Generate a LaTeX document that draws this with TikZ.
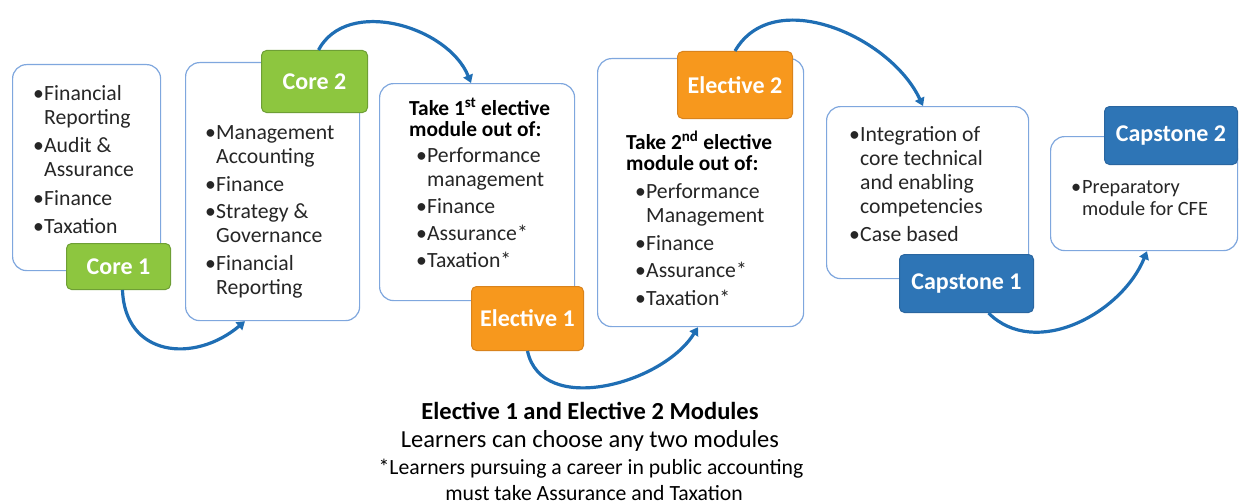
\documentclass[tikz,border=0pt]{standalone}
\usepackage{fontspec}
\setmainfont{Carlito}
\usetikzlibrary{arrows.meta,calc}

\definecolor{boxline}{HTML}{7FA7DE}
\definecolor{coregreen}{HTML}{8DC63F}
\definecolor{coreedge}{HTML}{6E9F35}
\definecolor{elecorange}{HTML}{F7981D}
\definecolor{elecedge}{HTML}{D9831C}
\definecolor{capblue}{HTML}{2E75B6}
\definecolor{capedge}{HTML}{2A66A0}
\definecolor{flowblue}{HTML}{1F6EB4}
\definecolor{textgrey}{HTML}{262626}

\newcommand\bl{\makebox[11pt][l]{\textbullet}}
\newcommand\ind{\hspace*{11pt}}

\tikzset{
  modbox/.style={draw=boxline, line width=1.2pt, rounded corners=14pt, fill=white, anchor=north west, inner sep=0pt},
  tag/.style={rounded corners=5pt, line width=1pt, anchor=north west, inner sep=0pt, text=white, font=\bfseries\fontsize{24}{28}\selectfont},
  coretag/.style={tag, fill=coregreen, draw=coreedge},
  electag/.style={tag, fill=elecorange, draw=elecedge},
  captag/.style={tag, fill=capblue, draw=capedge},
  items/.style={anchor=north west, align=left, inner sep=0pt, text=textgrey, font=\fontsize{21.7}{24}\selectfont},
  heading/.style={anchor=north west, align=left, inner sep=0pt, text=black, font=\bfseries\fontsize{21.4}{21}\selectfont},
  note/.style={anchor=base, inner sep=0pt, text=black},
  flow/.style={draw=flowblue, line width=3.2pt, -{Triangle[width=10pt,length=8pt]}},
}

\begin{document}
\begin{tikzpicture}[x=1pt,y=-1pt]
  \useasboundingbox (0,0) rectangle (1239,503);

  % module boxes
  \node[modbox, minimum width=148pt, minimum height=206pt] (core1box) at (12,64) {};
  \node[modbox, minimum width=174pt, minimum height=258pt] (core2box) at (185,62) {};
  \node[modbox, minimum width=195pt, minimum height=217pt] (elec1box) at (379,83) {};
  \node[modbox, minimum width=206pt, minimum height=268pt] (elec2box) at (597,58) {};
  \node[modbox, minimum width=202pt, minimum height=172pt] (cap1box) at (826,106) {};
  \node[modbox, minimum width=187pt, minimum height=114pt] (cap2box) at (1050,136) {};

  % contents
  \node[items] (core1txt) at (33,85) {\bl Financial\\ \ind Reporting\\[4.5pt]
    \bl Audit \&\\ \ind Assurance\\[4.5pt] \bl Finance\\[4pt] \bl Taxation};
  \node[items] (core2txt) at (205,125) {\bl Management\\ \ind Accounting\\[4.5pt]
    \bl Finance\\[3pt] \bl Strategy \&\\ \ind Governance\\[4pt]
    \bl Financial\\ \ind Reporting};
  \node[heading] (elec1head) at (409,98) {Take 1\textsuperscript{st} elective\\ module out of:};
  \node[items] (elec1txt) at (416,147) {\bl Performance\\ \ind management\\[3pt]
    \bl Finance\\[3pt] \bl Assurance*\\[3pt] \bl Taxation*};
  \node[heading] (elec2head) at (626,131) {Take 2\textsuperscript{nd} elective\\ module out of:};
  \node[items] (elec2txt) at (635,183) {\bl Performance\\ \ind Management\\[4pt]
    \bl Finance\\[3pt] \bl Assurance*\\[4pt] \bl Taxation*};
  \node[items] (cap1txt) at (849,126) {\bl Integration of\\ \ind core technical\\
    \ind and enabling\\ \ind competencies\\[4pt] \bl Case based};
  \node[items, font=\fontsize{20.3}{22}\selectfont] (cap2txt) at (1071,180)
    {\bl Preparatory\\ \ind module for CFE};

  % tags
  \node[coretag, minimum width=104pt, minimum height=46pt] (core1) at (66,243) {Core 1};
  \node[coretag, minimum width=106pt, minimum height=62pt] (core2) at (261,50) {Core 2};
  \node[electag, minimum width=112pt, minimum height=64pt] (elec1) at (471,286) {Elective 1};
  \node[electag, minimum width=115pt, minimum height=67pt] (elec2) at (677,51) {Elective 2};
  \node[captag, minimum width=134pt, minimum height=58pt] (cap1) at (899,254) {Capstone 1};
  \node[captag, minimum width=133pt, minimum height=58pt] (cap2) at (1104,106) {Capstone 2};

  % flow
  \draw[flow] ($(core1.south)+(4,0)$) to[out=-88,in=-140,looseness=1.35] ($(core2box.south west)+(60,0)$);
  \draw[flow] ($(core2.north)+(4,0)$) to[out=62,in=112] ($(elec1box.north west)+(92,0)$);
  \draw[flow] (elec1.south) to[out=-78,in=-122] ($(elec2box.south west)+(101,0)$);
  \draw[flow] (elec2.north) to[out=60,in=115] ($(cap1box.north west)+(97,0)$);
  \draw[flow] ($(cap1.south)+(22,0)$) to[out=-45,in=-112] ($(cap2box.south west)+(97,0)$);

  % note
  \node[note, font=\bfseries\fontsize{24.5}{28}\selectfont] (note1) at (590,419) {Elective 1 and Elective 2 Modules};
  \node[note, font=\fontsize{24.5}{28}\selectfont] (note2) at (590,447) {Learners can choose any two modules};
  \node[note, font=\fontsize{21.7}{24}\selectfont] (note3) at (591,474) {*Learners pursuing a career in public accounting};
  \node[note, font=\fontsize{21.7}{24}\selectfont] (note4) at (594,500) {must take Assurance and Taxation};
\end{tikzpicture}
\end{document}
